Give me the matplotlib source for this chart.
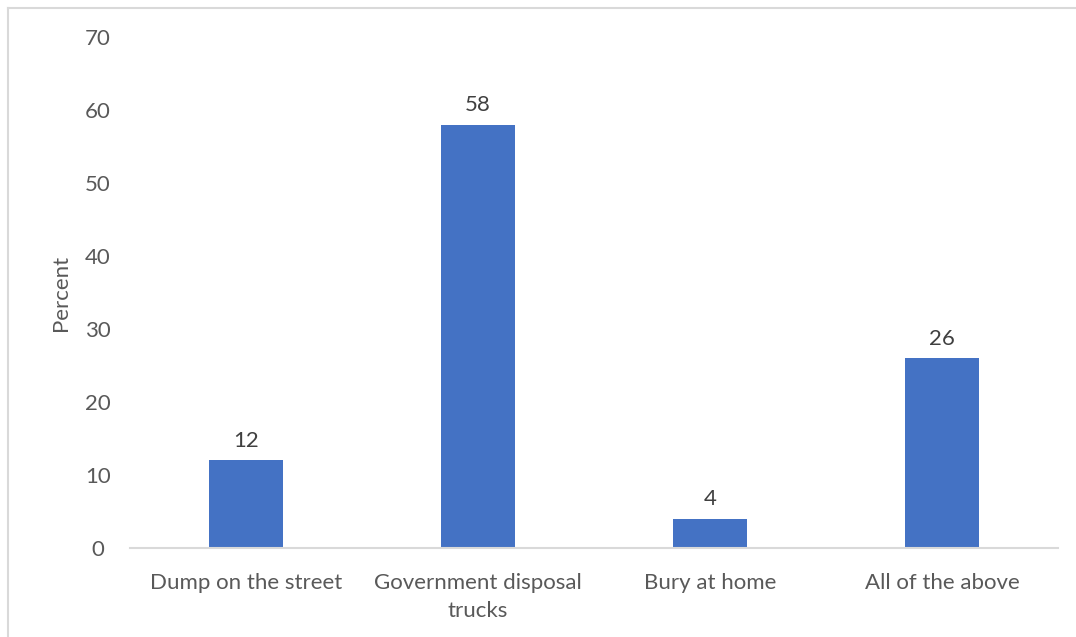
import matplotlib
matplotlib.use("Agg")
import matplotlib.pyplot as plt
from matplotlib.lines import Line2D

categories = ["Dump on the street", "Government disposal\ntrucks", "Bury at home", "All of the above"]
percent = [12, 58, 4, 26]
yticks = [0, 10, 20, 30, 40, 50, 60, 70]

BAR = "#4472C4"
TXT = "#595959"
AXIS = "#D9D9D9"

plt.rcParams.update({"font.family": ["Lato", "DejaVu Sans"], "font.size": 16})

fig = plt.figure(figsize=(10.76, 6.37), dpi=100)
ax = fig.add_axes([130 / 1076, 89 / 637, 928 / 1076, 511 / 637])

x = range(len(categories))
bars = ax.bar(x, percent, width=0.315, color=BAR, zorder=2)
for b, v in zip(bars, percent):
    ax.text(b.get_x() + b.get_width() / 2, v + 1.3, str(v), ha="center", va="bottom",
            fontsize=16, color="#404040")

ax.set_xlim(-0.5, len(categories) - 0.5)
ax.set_ylim(0, 70)
ax.set_yticks(yticks)
ax.set_xticks(list(x), categories)
ax.tick_params(axis="y", length=0, pad=23, labelcolor=TXT, labelsize=16)
ax.tick_params(axis="x", length=0, pad=18, labelcolor=TXT, labelsize=16)
for lbl in ax.get_yticklabels():
    lbl.set_horizontalalignment("center")
for lbl in ax.get_xticklabels():
    lbl.set_linespacing(1.5)
for s in ["top", "right", "left"]:
    ax.spines[s].set_visible(False)
ax.spines["bottom"].set_color(AXIS)
ax.spines["bottom"].set_linewidth(1.5)
ax.set_ylabel("Percent", color=TXT, fontsize=16, labelpad=10)

# chart border (top and left edges visible in the crop)
fig.add_artist(Line2D([8 / 1076, 1], [1 - 8 / 637, 1 - 8 / 637], color=AXIS, lw=1.5))
fig.add_artist(Line2D([8 / 1076, 8 / 1076], [0, 1 - 8 / 637], color=AXIS, lw=1.5))

fig.savefig("out.png", dpi=100, facecolor="white")
